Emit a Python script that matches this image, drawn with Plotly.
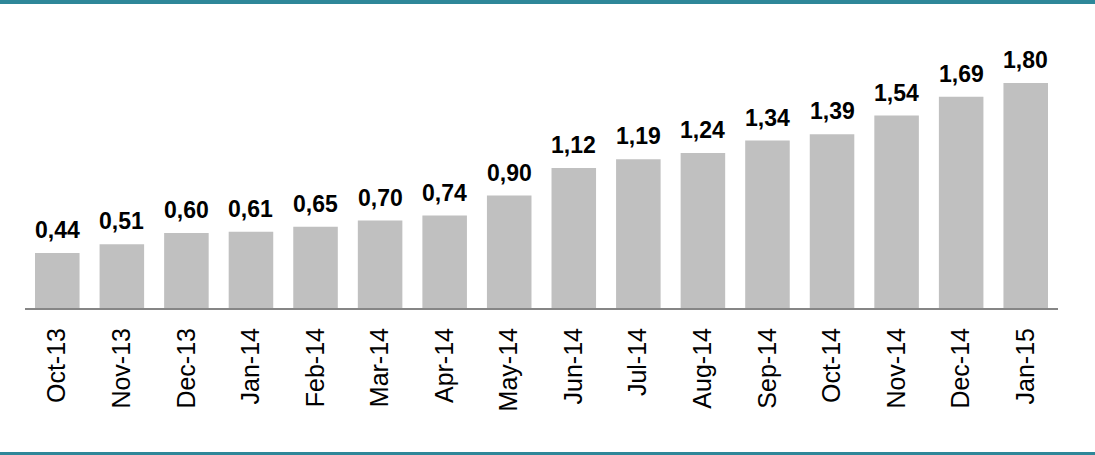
import plotly.graph_objects as go

# Monthly values shown in the bar chart
months = ["Oct-13", "Nov-13", "Dec-13", "Jan-14", "Feb-14", "Mar-14", "Apr-14", "May-14",
          "Jun-14", "Jul-14", "Aug-14", "Sep-14", "Oct-14", "Nov-14", "Dec-14", "Jan-15"]
values = [0.44, 0.51, 0.60, 0.61, 0.65, 0.70, 0.74, 0.90,
          1.12, 1.19, 1.24, 1.34, 1.39, 1.54, 1.69, 1.80]

W, H = 1095, 455
m_left, m_right, m_top, m_bottom = 25, 37, 40, 147
plot_h = H - m_top - m_bottom
y_max = plot_h / 125.0

teal = "#2e8799"
font_family = "Arial, 'Liberation Sans', sans-serif"

fig = go.Figure(go.Bar(
    x=months,
    y=values,
    marker=dict(color="#c0c0c0", line=dict(width=0)),
    hoverinfo="skip",
))

# Value labels above each bar, comma decimal separator
for m, v in zip(months, values):
    fig.add_annotation(
        x=m, y=v, xref="x", yref="y",
        text=f"{v:.2f}".replace(".", ","),
        showarrow=False, yanchor="bottom", yshift=8,
        font=dict(family=font_family, size=23, color="#000000", weight="bold"),
    )

# Teal rules at the top and bottom edge of the figure (paper coords)
top_paper = 1 + m_top / plot_h
bot_paper = -m_bottom / plot_h
fig.add_shape(type="rect", xref="paper", yref="paper",
              x0=-m_left / (W - m_left - m_right), x1=1 + m_right / (W - m_left - m_right),
              y0=top_paper - 4 / plot_h, y1=top_paper,
              fillcolor=teal, line=dict(width=0), layer="above")
fig.add_shape(type="rect", xref="paper", yref="paper",
              x0=-m_left / (W - m_left - m_right), x1=1 + m_right / (W - m_left - m_right),
              y0=bot_paper, y1=bot_paper + 3 / plot_h,
              fillcolor=teal, line=dict(width=0), layer="above")

fig.update_layout(
    width=W, height=H,
    margin=dict(l=m_left, r=m_right, t=m_top, b=m_bottom, pad=0),
    plot_bgcolor="#ffffff", paper_bgcolor="#ffffff",
    bargap=0.31,
    showlegend=False,
    font=dict(family=font_family, color="#000000"),
)
fig.update_xaxes(
    tickangle=-90,
    tickfont=dict(family=font_family, size=25, color="#000000"),
    showline=True, linecolor="#868686", linewidth=2,
    ticks="", showgrid=False, ticklabelstandoff=8,
)
fig.update_yaxes(
    range=[0, y_max], visible=False, showgrid=False, zeroline=False,
)

fig.write_html("out.html")
